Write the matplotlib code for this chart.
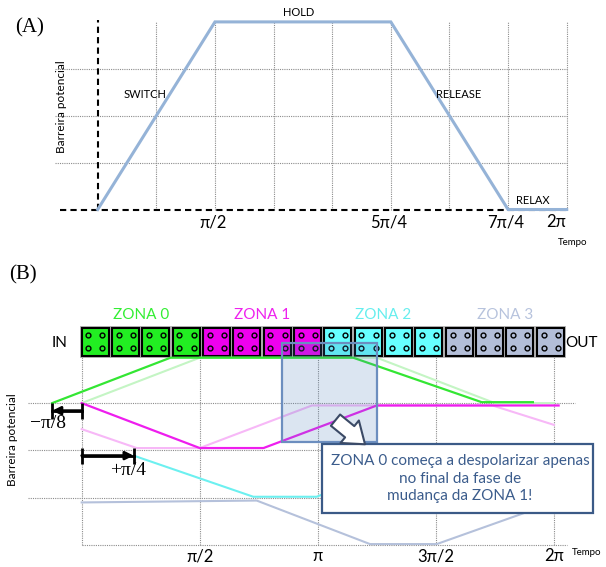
import numpy as np
import matplotlib
matplotlib.use('Agg')
import matplotlib.pyplot as plt
from matplotlib.patches import Rectangle

plt.rcParams['font.family'] = ['Lato', 'DejaVu Sans']
SERIF = ['Liberation Serif', 'DejaVu Serif']

#############################################################################
# DATA  (time in units of pi, barrier in grid steps)
#############################################################################

# (A) one clock cycle
clock_t = [0, 0.5, 1.25, 1.75, 2.0]
clock_level = [0, 4, 4, 0, 0]
clock_ticks = [0.5, 1.25, 1.75, 2.0]
clock_tick_labels = ['π/2', '5π/4', '7π/4', '2π']

# (B) four clock zones
zone_names = ['ZONA 0', 'ZONA 1', 'ZONA 2', 'ZONA 3']
cells_per_zone = 4

zone0_t = [-0.125, 0.376, 1.15, 1.694, 1.911]
zone0_level = [3.0, 3.96, 3.96, 3.02, 3.02]
zone0_ref_t = [0, 0.5, 1.25, 1.75, 2.0]
zone0_ref_level = [3.0, 3.96, 3.96, 3.0, 3.0]

zone1_t = [0, 0.5, 0.77, 1.25, 2.02]
zone1_level = [3.0, 2.05, 2.05, 2.95, 2.95]
zone1_ref_t = [0, 0.233, 0.5, 0.975, 1.74, 2.0]
zone1_ref_level = [2.45, 2.05, 2.05, 2.95, 2.95, 2.54]

zone2_t = [0.22, 0.727, 0.995, 1.5, 2.0]
zone2_level = [1.89, 1.02, 1.02, 2.0, 2.0]

zone3_t = [0, 0.741, 1.221, 1.504, 2.0]
zone3_level = [0.9, 0.94, 0.02, 0.02, 0.9]

b_ticks = [0.5, 1.0, 1.5, 2.0]
b_tick_labels = ['π/2', 'π', '3π/2', '2π']

shift_early = -0.125   # -pi/8
shift_late = 0.22      # +pi/4 (as drawn)

cell_colors = ['#22EE22', '#EE00EE', '#66FFFF', '#B3BED8']
line_colors = ['#33E633', '#EE1EEE', '#6CF0F0', '#B5C1DB']
ref_colors = ['#C4F5C4', '#F7B8F7']
name_colors = ['#33EE33', '#EE22EE', '#66EEEE', '#B7C3DD']

GRID = dict(color='#8C8C8C', lw=0.8, ls=(0, (1, 1)))

fig = plt.figure(figsize=(6.06, 5.67), dpi=100)

#############################################################################
# (A)
#############################################################################
axA = fig.add_axes([0, 1 - 258 / 567, 1, 258 / 567])
axA.set_xlim(-0.4166, 2.1676)
axA.set_ylim(-1.034, 4.467)
axA.axis('off')

axA.vlines(np.arange(0.25, 2.01, 0.25), 0, 4, **GRID)
axA.hlines([1, 2, 3], -0.18, 2.0, **GRID)
axA.plot([0, 0], [0, 4.04], color='black', lw=1.5, ls=(0, (3, 2)))
axA.plot([-0.16, 2.0], [0, 0], color='black', lw=1.5, ls=(0, (3, 2)))
axA.plot(clock_t, clock_level, color='#95B3D7', lw=2.2, solid_joinstyle='miter')

axA.text(0.858, 4.21, 'HOLD', ha='center', va='center', fontsize=8)
axA.text(0.202, 2.46, 'SWITCH', ha='center', va='center', fontsize=8)
axA.text(1.541, 2.46, 'RELEASE', ha='center', va='center', fontsize=8)
axA.text(1.856, 0.2, 'RELAX', ha='center', va='center', fontsize=8)
for t, lab in zip(clock_ticks, clock_tick_labels):
    dx = -0.047 if t == 2.0 else -0.01
    axA.text(t + dx, -0.27, lab, ha='center', va='center', fontsize=12)
axA.text(2.027, -0.71, 'Tempo', ha='center', va='center', fontsize=7)
axA.text(-0.156, 2.19, 'Barreira potencial', rotation=90, ha='center',
         va='center', fontsize=8.5)
axA.text(-0.29, 3.87, '(A)', ha='center', va='center', fontsize=15,
         family=SERIF)

#############################################################################
# (B)
#############################################################################
axB = fig.add_axes([0, 0, 1, 309 / 567])
axB.set_xlim(-0.346, 2.2207)
axB.set_ylim(-0.465, 6.068)
axB.axis('off')

axB.vlines([0] + b_ticks, 0, 4, **GRID)
axB.hlines([1, 2, 3], -0.227, 2.09, **GRID)
axB.hlines(0, 0, 2.055, **GRID)

# cells row
pitch, cw, ch = 0.1285, 0.1144, 0.59
for k, col in enumerate(cell_colors):
    for j in range(cells_per_zone):
        x0 = (k * cells_per_zone + j) * pitch
        axB.add_patch(Rectangle((x0, 4.0), cw, ch, fc='none', ec='#B0B0B0',
                                lw=2.8, zorder=2))
        axB.add_patch(Rectangle((x0, 4.0), cw, ch, fc=col, ec='black',
                                lw=1.5, zorder=3))
        cx = [x0 + 0.25 * cw, x0 + 0.77 * cw] * 2
        cy = [4.0 + 0.27 * ch] * 2 + [4.0 + 0.73 * ch] * 2
        axB.scatter(cx, cy, s=12, fc=col, ec='black', lw=1.0, zorder=4)
    xc = (k * cells_per_zone + cells_per_zone / 2) * pitch - (pitch - cw) / 2
    axB.text(xc, 4.86, zone_names[k], ha='center', va='center', fontsize=11,
             color=name_colors[k])
axB.text(-0.092, 4.27, 'IN', ha='center', va='center', fontsize=11)
axB.text(2.118, 4.27, 'OUT', ha='center', va='center', fontsize=11)

# barrier curves
axB.plot(zone0_ref_t, zone0_ref_level, color=ref_colors[0], lw=1.5, zorder=5)
axB.plot(zone1_ref_t, zone1_ref_level, color=ref_colors[1], lw=1.5, zorder=5)
axB.plot(zone3_t, zone3_level, color=line_colors[3], lw=1.5, zorder=5)
axB.plot(zone2_t, zone2_level, color=line_colors[2], lw=1.5, zorder=6)
axB.plot(zone1_t, zone1_level, color=line_colors[1], lw=1.6, zorder=6)
axB.plot(zone0_t, zone0_level, color=line_colors[0], lw=1.6, zorder=6)

# -pi/8 and +pi/4 markers
for t0, t1, lv, head, lab, lt, ll in [
        (shift_early, 0, 2.84, shift_early, '−π/8', -0.141, 2.57),
        (0, shift_late, 1.89, shift_late, '+π/4', 0.197, 1.585)]:
    axB.plot([t0, t1], [lv, lv], color='black', lw=2, marker='|', ms=11,
             mew=2, zorder=7)
    tail = t1 if head == t0 else t0
    axB.annotate('', xy=(head, lv), xytext=(tail, lv), zorder=7,
                 arrowprops=dict(arrowstyle='-|>', color='black', lw=2,
                                 mutation_scale=12, shrinkA=0, shrinkB=0))
    axB.text(lt, ll, lab, ha='center', va='center', fontsize=14,
             family=SERIF)

# highlight box
axB.add_patch(Rectangle((0.85, 2.18), 0.399, 2.09, fc='#4F81BD', alpha=0.2,
                        ec='none', zorder=8))
axB.add_patch(Rectangle((0.85, 2.18), 0.399, 2.09, fc='none', ec='#6C8EBF',
                        lw=1.6, zorder=8))

# callout
axB.add_patch(Rectangle((1.0165, 0.67), 1.15, 1.465, fc='white',
                        ec='#3B5A87', lw=1.6, zorder=9))
axB.text(1.602, 1.40, 'ZONA 0 começa a despolarizar apenas\nno final da fase de\n'
         'mudança da ZONA 1!', ha='center', va='center', fontsize=11,
         color='#3B5C8C', linespacing=1.3, zorder=10)
axB.annotate('', xy=(1.2, 2.13), xytext=(1.075, 2.64), zorder=10,
             arrowprops=dict(arrowstyle='simple,head_length=0.75,head_width=1.1,'
                             'tail_width=0.55', fc='white', ec='#3B4A66',
                             lw=1.5, mutation_scale=19, shrinkA=0, shrinkB=0))

for t, lab in zip(b_ticks, b_tick_labels):
    axB.text(t, -0.233, lab, ha='center', va='center', fontsize=12)
axB.text(2.14, -0.15, 'Tempo', ha='center', va='center', fontsize=7)
axB.text(-0.291, 2.22, 'Barreira potencial', rotation=90, ha='center',
         va='center', fontsize=8.5)
axB.text(-0.25, 5.71, '(B)', ha='center', va='center', fontsize=15,
         family=SERIF)

fig.savefig('out.png', dpi=100)
